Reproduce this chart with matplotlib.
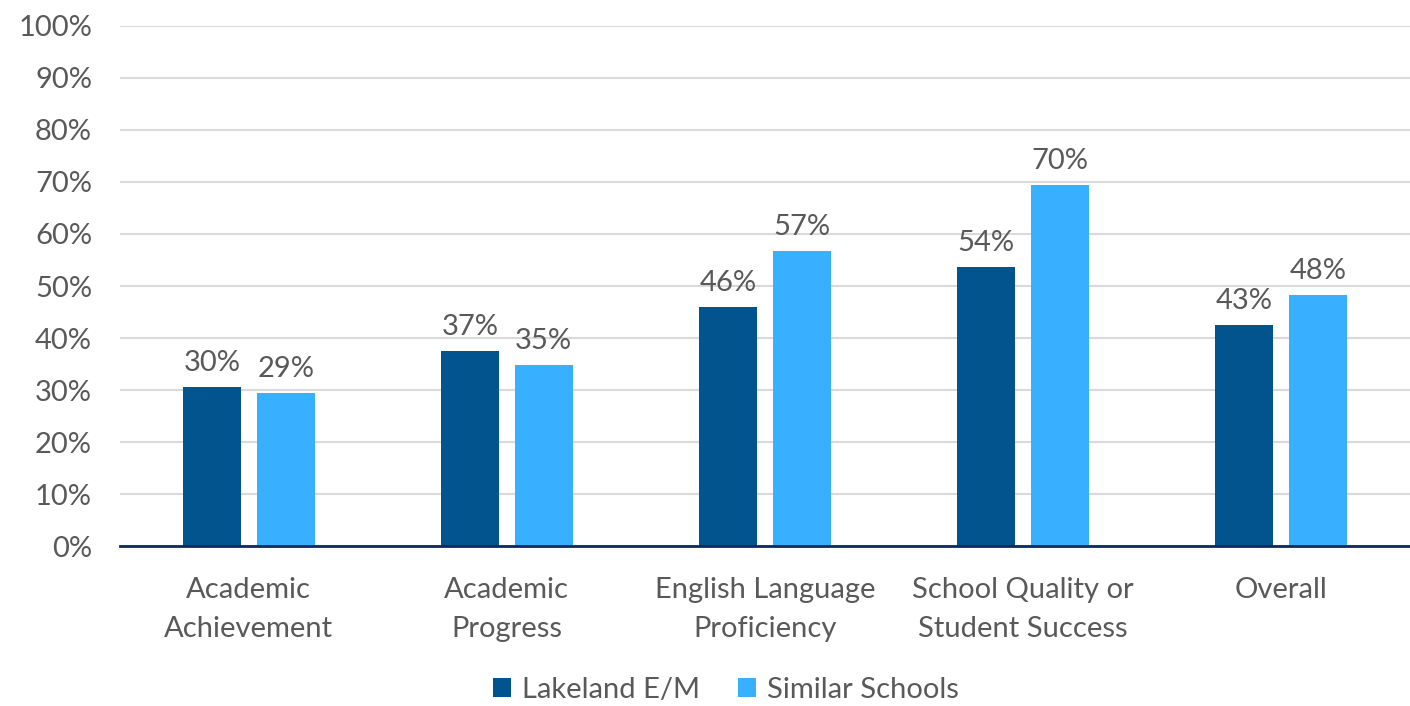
import matplotlib.pyplot as plt
import numpy as np

categories = ['Academic\nAchievement', 'Academic\nProgress', 'English Language\nProficiency',
              'School Quality or\nStudent Success', 'Overall']
lakeland = [30.6, 37.5, 46.0, 53.7, 42.5]
similar = [29.4, 34.8, 56.7, 69.4, 48.3]
lakeland_labels = ['30%', '37%', '46%', '54%', '43%']
similar_labels = ['29%', '35%', '57%', '70%', '48%']

plt.rcParams['font.family'] = ['Lato', 'DejaVu Sans']
text_color = '#595959'
dark = '#02548F'
light = '#38B0FF'
fs = 21

fig = plt.figure(figsize=(14.1, 7.06), dpi=100)
ax = fig.add_axes([0.085, 0.2266, 0.915, 0.7366])

x = np.arange(len(categories))
w = 0.224
off = 0.143
b1 = ax.bar(x - off, lakeland, w, color=dark, label='Lakeland E/M', zorder=3)
b2 = ax.bar(x + off, similar, w, color=light, label='Similar Schools', zorder=3)

for bars, labs in ((b1, lakeland_labels), (b2, similar_labels)):
    for b, t in zip(bars, labs):
        ax.annotate(t, (b.get_x() + b.get_width() / 2, b.get_height()),
                    xytext=(0, 8), textcoords='offset points',
                    ha='center', va='bottom', fontsize=fs, color=text_color)

ax.set_xlim(-0.5, len(categories) - 0.5)
ax.set_ylim(0, 100)
ax.set_yticks(range(0, 101, 10))
ax.set_yticklabels([f'{v}%' for v in range(0, 101, 10)])
ax.set_xticks(x)
ax.set_xticklabels(categories, linespacing=1.62)
ax.tick_params(axis='both', length=0, labelsize=fs, labelcolor=text_color)
ax.tick_params(axis='x', pad=22)
ax.tick_params(axis='y', pad=20)
ax.grid(axis='y', color='#D9D9D9', linewidth=1.5, zorder=0)
for s in ['top', 'right', 'left']:
    ax.spines[s].set_visible(False)
ax.spines['bottom'].set_color('#0D2A5C')
ax.spines['bottom'].set_linewidth(2)
ax.spines['bottom'].set_zorder(4)

leg = fig.legend(loc='center', bbox_to_anchor=(0.515, 0.023), ncol=2, frameon=False,
                 fontsize=fs, handlelength=0.6, handleheight=0.6, handletextpad=0.4,
                 columnspacing=1.3)
for t in leg.get_texts():
    t.set_color(text_color)

plt.savefig('out.png', dpi=100)
